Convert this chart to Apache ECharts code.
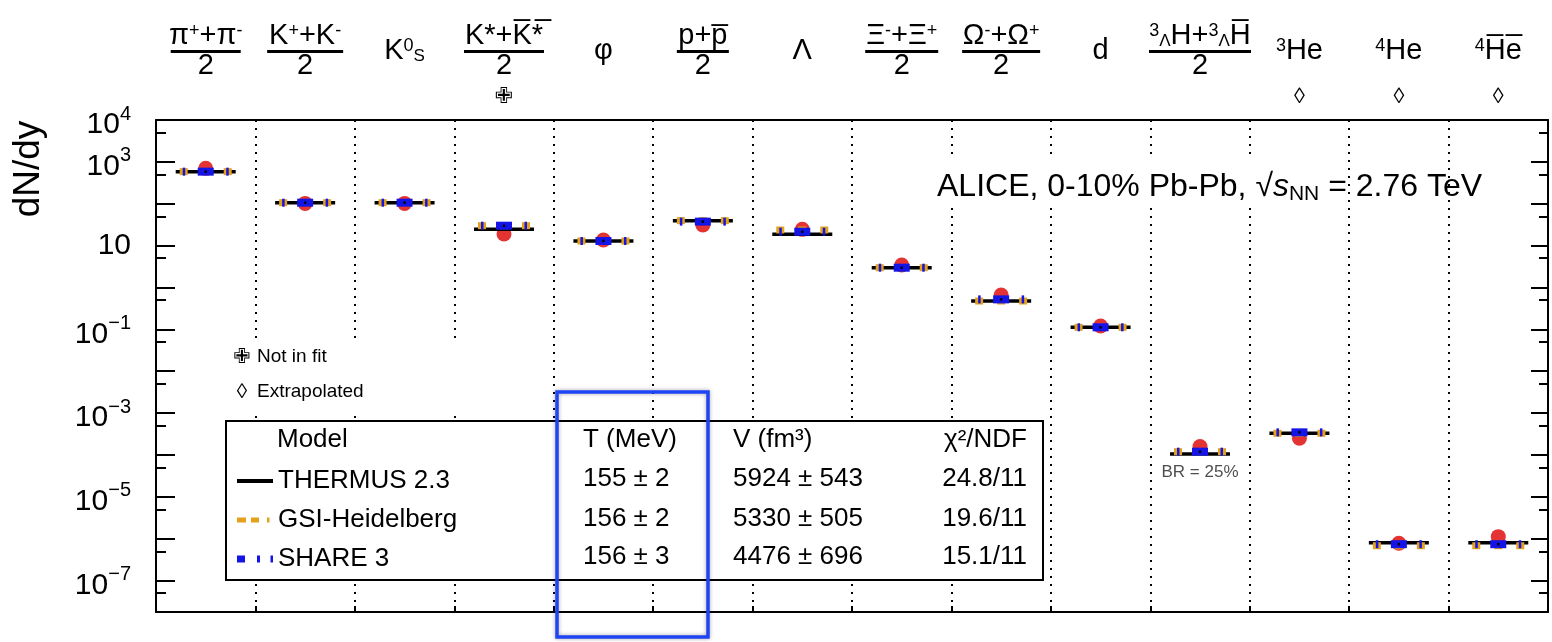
<!DOCTYPE html>
<html>
<head>
<meta charset="utf-8">
<script src="https://cdn.jsdelivr.net/npm/echarts@6.0.0/dist/echarts.min.js"></script>
<style>
html, body { margin: 0; padding: 0; background: #fff; }
#main { width: 1552px; height: 642px; }
</style>
</head>
<body>
<div id="main"></div>
<script>
var FONT = '"Liberation Sans", "DejaVu Sans", sans-serif';

// particles (top axis), in plot order
var categories = ['pi', 'K', 'K0S', 'K*', 'phi', 'p', 'Lambda', 'Xi', 'Omega', 'd', 'H3L', 'He3', 'He4', 'He4bar'];
var catLabelMain = [
    '{n|π}{sup|+}{n|+π}{sup|-}',
    '{n|K}{sup|+}{n|+K}{sup|-}',
    '{n|K}{sup|0}{sub|S}',
    '{n|K*+K\u0305*\u0305}',
    '{n|φ}',
    '{n|p+p\u0305}',
    '{n|Λ}',
    '{n|Ξ}{sup|-}{n|+Ξ}{sup|+}',
    '{n|Ω}{sup|-}{n|+Ω}{sup|+}',
    '{n|d}',
    '{sup|3}{sub|Λ}{n|H+}{sup|3}{sub|Λ}{n|H\u0305}',
    '{sup|3}{n|He}',
    '{sup|4}{n|He}',
    '{sup|4}{n|H\u0305e\u0305}'
];
var catDenom = ['2', '2', '', '2', '', '2', '', '2', '2', '', '2', '', '', ''];
var catMark = ['', '', '', '✙', '', '', '', '', '', '', '', '◊', '◊', '◊'];

// dN/dy
var aliceData = [700, 102, 102, 18.9, 13.6, 31, 24.5, 3.44, 0.66, 0.12, 1.6e-4, 2.5e-4, 7.8e-7, 1.12e-6];
var thermus = [584, 106, 106, 24.5, 12.9, 39.4, 18.6, 2.97, 0.475, 0.112, 1.05e-4, 3.3e-4, 8.0e-7, 8.0e-7];
var gsi = [584, 106, 106, 29.9, 12.9, 39.4, 23.6, 2.97, 0.475, 0.112, 1.2e-4, 3.3e-4, 6.8e-7, 6.8e-7];
var share = [584, 106, 106, 29.9, 12.9, 37.4, 21.5, 2.97, 0.52, 0.112, 1.2e-4, 3.47e-4, 7.4e-7, 7.4e-7];
var pointNote = ['', '', '', '', '', '', '', '', '', '', 'BR = 25%', '', '', ''];

// log10 axis range and labelled decades
var yMinExp = -7.75;
var yMaxExp = 4;
var yTickExps = [4, 3, 1, -1, -3, -5, -7];

// fit table
var modelNames = ['THERMUS 2.3', 'GSI-Heidelberg', 'SHARE 3'];
var tableHead = ['Model', 'T (MeV)', 'V (fm³)', 'χ²/NDF'];
var tableT = ['155 ± 2', '156 ± 2', '156 ± 3'];
var tableV = ['5924 ± 543', '5330 ± 505', '4476 ± 696'];
var tableChi = ['24.8/11', '19.6/11', '15.1/11'];

var catBarW = [70, 76, 0, 80, 0, 52, 0, 73, 78, 0, 102, 0, 0, 0];
var ORANGE = '#e3a21a';
var BLUE = '#1414e6';
var RED = '#dc0000';

var chart = echarts.init(document.getElementById('main'));

function toLog(arr) {
    return arr.map(function (v, i) { return [i, Math.log10(v)]; });
}

function catLabel(i) {
    var s;
    if (catDenom[i]) {
        s = catLabelMain[i] + '\n{bar' + i + '| }\n{d|' + catDenom[i] + '}';
    } else {
        s = '{g1| }\n' + catLabelMain[i] + '\n{g2| }';
    }
    return s + '\n{mk|' + (catMark[i] || ' ') + '}';
}

var catRich = {
    n: { fontSize: 29, fontFamily: FONT, color: '#000', lineHeight: 28 },
    sup: { fontSize: 18, fontFamily: FONT, color: '#000', lineHeight: 28, verticalAlign: 'top' },
    sub: { fontSize: 17, fontFamily: FONT, color: '#000', lineHeight: 28, verticalAlign: 'bottom' },
    d: { fontSize: 29, fontFamily: FONT, color: '#000', lineHeight: 26 },
    mk: { fontSize: 22, fontFamily: FONT, color: '#000', lineHeight: 36 },
    g1: { fontSize: 1, lineHeight: 15 },
    g2: { fontSize: 1, lineHeight: 14 }
};
catBarW.forEach(function (w, i) {
    if (w) {
        catRich['bar' + i] = { width: w, height: 3, lineHeight: 3, fontSize: 1, backgroundColor: '#000' };
    }
});

function yLabel(v) {
    var e = Math.round(v);
    if (Math.abs(v - e) > 1e-6 || yTickExps.indexOf(e) < 0) return '';
    if (e === 1) return '{c|10}';
    return '{b|10}{e|' + (e < 0 ? '\u2212' + (-e) : e) + '}';
}

function yAxisCfg(pos, shift, len, main) {
    return {
        type: 'value',
        position: pos,
        min: yMinExp + shift,
        max: yMaxExp + shift,
        minInterval: 1,
        maxInterval: 1,
        axisLine: { show: main, onZero: false, lineStyle: { color: '#000', width: 2 } },
        axisTick: { show: true, inside: true, length: len, lineStyle: { color: '#000', width: 2 } },
        axisLabel: pos === 'left' && main ? {
            show: true,
            margin: 25,
            showMaxLabel: true,
            showMinLabel: false,
            hideOverlap: false,
            formatter: yLabel,
            rich: {
                b: { fontSize: 30, fontFamily: FONT, color: '#000', lineHeight: 40, verticalAlign: 'bottom' },
                e: { fontSize: 20, fontFamily: FONT, color: '#000', lineHeight: 40, verticalAlign: 'top', padding: [4, 0, 0, 0] },
                c: { fontSize: 30, fontFamily: FONT, color: '#000' }
            }
        } : { show: false },
        splitLine: { show: false }
    };
}

function modelRender(kind) {
    return function (params, api) {
        var c = api.coord([api.value(0), api.value(1)]);
        var ch = [];
        if (kind === 0) {
            ch.push({ type: 'rect', shape: { x: c[0] - 30, y: c[1] - 1.75, width: 60, height: 3.5 }, style: { fill: '#000' } });
        } else if (kind === 1) {
            [-26, -4, 18].forEach(function (dx) {
                ch.push({ type: 'rect', shape: { x: c[0] + dx, y: c[1] - 3.5, width: 8, height: 7 }, style: { fill: ORANGE } });
            });
        } else {
            ch.push({ type: 'rect', shape: { x: c[0] - 8, y: c[1] - 4, width: 16, height: 8 }, style: { fill: BLUE } });
            [-23, 20.5].forEach(function (dx) {
                ch.push({ type: 'rect', shape: { x: c[0] + dx, y: c[1] - 4, width: 2.5, height: 8 }, style: { fill: BLUE } });
            });
            ch.push({ type: 'rect', shape: { x: c[0] - 1.2, y: c[1] - 1.2, width: 2.4, height: 2.4 }, style: { fill: '#000' } });
        }
        return { type: 'group', children: ch };
    };
}

var modelData = [thermus, gsi, share];
var modelColors = ['#000', ORANGE, BLUE];
var legendIcons = [
    'path://M0,0M36,8M0,2H36V6H0Z',
    'path://M0,0M36,8M0,1.5H9V6.5H0Z M14,1.5H22V6.5H14Z M30,1.5H32.5V6.5H30Z',
    'path://M0,0M36,8M0,0.5H8V7.5H0Z M20,0.5H23V7.5H20Z M33.5,0.5H36V7.5H33.5Z'
];

var series = [{
    name: 'ALICE',
    type: 'scatter',
    xAxisIndex: 0,
    yAxisIndex: 0,
    symbol: 'circle',
    symbolSize: 15,
    itemStyle: { color: RED },
    z: 2,
    data: toLog(aliceData).map(function (p, i) {
        var item = { value: p };
        if (pointNote[i]) {
            item.label = {
                show: true, position: 'bottom', distance: 10, formatter: pointNote[i],
                fontSize: 17, fontFamily: FONT, color: '#222'
            };
        }
        return item;
    })
}];
modelNames.forEach(function (name, k) {
    series.push({
        name: name,
        type: 'custom',
        xAxisIndex: 0,
        yAxisIndex: 0,
        z: 3 + k,
        itemStyle: { color: modelColors[k] },
        renderItem: modelRender(k),
        data: toLog(modelData[k])
    });
});

// table texts
var graphics = [];
function txt(x, y, text, align, size, extra) {
    var st = {
        text: text, x: 0, y: 0, fill: '#000', fontSize: size, fontFamily: FONT,
        align: align, textAlign: align, verticalAlign: 'middle', textVerticalAlign: 'middle'
    };
    if (extra) for (var k in extra) st[k] = extra[k];
    return { type: 'text', x: x, y: y, z: 6, style: st };
}
var rowY = [440, 479, 519, 557];
var colX = [277, 583, 733, 1027];
// white patches that cut the dotted lines behind the notes and the title
graphics.push({ type: 'rect', z: 1, shape: { x: 226, y: 338, width: 318, height: 74 }, style: { fill: '#fff' } });
graphics.push({ type: 'rect', z: 1, shape: { x: 932, y: 155, width: 408, height: 53 }, style: { fill: '#fff' } });
graphics.push({ type: 'rect', z: 3, shape: { x: 226, y: 421, width: 817, height: 159 }, style: { fill: '#fff', stroke: '#000', lineWidth: 2 } });
tableHead.forEach(function (h, j) {
    graphics.push(txt(colX[j], rowY[0], h, j === 3 ? 'right' : 'left', 26));
});
tableT.forEach(function (t, i) {
    graphics.push(txt(colX[1], rowY[i + 1], t, 'left', 26));
    graphics.push(txt(colX[2], rowY[i + 1], tableV[i], 'left', 26));
    graphics.push(txt(colX[3], rowY[i + 1], tableChi[i], 'right', 26));
});
graphics.push(txt(242, 357, '✙', 'center', 21));
graphics.push(txt(257, 357, 'Not in fit', 'left', 19));
graphics.push(txt(242, 392, '◊', 'center', 21));
graphics.push(txt(257, 392, 'Extrapolated', 'left', 19));
graphics.push({ type: 'text', x: 29, y: 169, rotation: Math.PI / 2, z: 6,
    style: { text: 'dN/dy', fill: '#000', fontSize: 37, fontFamily: FONT,
        align: 'center', textAlign: 'center', verticalAlign: 'middle', textVerticalAlign: 'middle' } });
graphics.push({ type: 'rect', z: 10, shape: { x: 557, y: 392, width: 151, height: 245 },
    style: { fill: 'none', stroke: '#1e44f4', lineWidth: 3.5, shadowBlur: 4, shadowColor: 'rgba(0,0,0,0.35)' } });

chart.setOption({
    animation: false,
    backgroundColor: '#fff',
    title: {
        text: '{t|ALICE, 0-10% Pb-Pb, }{t|√}{s|s}{nn|NN}{t| = 2.76 TeV}',
        left: 931,
        top: 163,
        padding: [4, 6],
        textStyle: {
            fontWeight: 'normal',
            rich: {
                t: { fontSize: 32, fontFamily: FONT, fontWeight: 'normal', color: '#000', lineHeight: 40 },
                s: { fontSize: 32, fontFamily: FONT, fontWeight: 'normal', color: '#000', fontStyle: 'italic', lineHeight: 40 },
                nn: { fontSize: 21, fontFamily: FONT, fontWeight: 'normal', color: '#000', lineHeight: 40, verticalAlign: 'bottom', padding: [0, 0, 2, 0] }
            }
        }
    },
    legend: {
        orient: 'vertical',
        left: 232,
        top: 463,
        itemGap: 13,
        itemWidth: 36,
        itemHeight: 8,
        selectedMode: false,
        itemStyle: { borderWidth: 0 },
        textStyle: { fontSize: 26, fontFamily: FONT, color: '#000' },
        data: modelNames.map(function (n, k) { return { name: n, icon: legendIcons[k] }; })
    },
    grid: { left: 156, right: 4, top: 120, bottom: 30, containLabel: false },
    xAxis: [{
        type: 'category',
        position: 'top',
        data: categories,
        axisLine: { show: true, onZero: false, lineStyle: { color: '#000', width: 2 } },
        axisTick: { show: false },
        axisLabel: {
            interval: 0,
            margin: 5,
            formatter: function (v, i) { return catLabel(i); },
            rich: catRich
        },
        splitLine: { show: true, interval: 0, lineStyle: { color: '#000', width: 2, type: [2, 6] } }
    }, {
        type: 'category',
        position: 'bottom',
        data: categories,
        axisLine: { show: true, onZero: false, lineStyle: { color: '#000', width: 2 } },
        axisTick: { show: true, inside: true, interval: 0, length: 6, lineStyle: { color: '#000', width: 2 } },
        axisLabel: { show: false },
        splitLine: { show: false }
    }],
    yAxis: [
        yAxisCfg('left', 0, 19, true),
        yAxisCfg('right', 0, 17, true),
        yAxisCfg('left', Math.log10(2), 10, false),
        yAxisCfg('right', Math.log10(2), 9, false)
    ],
    graphic: graphics,
    series: series
});
</script>
</body>
</html>
